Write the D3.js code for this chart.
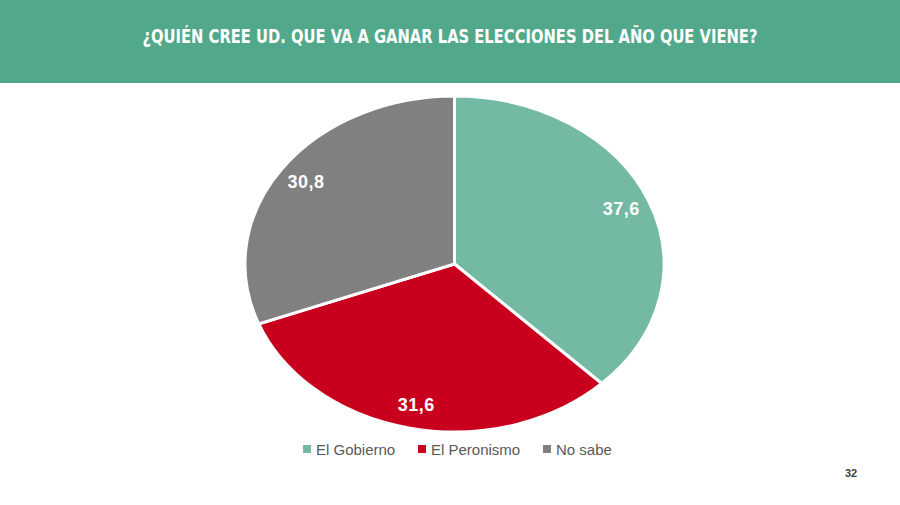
<!DOCTYPE html>
<html>
<head>
<meta charset="utf-8">
<script src="https://cdn.jsdelivr.net/npm/d3@7"></script>
<style>
  html, body { margin: 0; padding: 0; background: #ffffff; }
  svg { display: block; }
</style>
</head>
<body>
<svg id="chart" width="900" height="505"></svg>
<script>
const title = "¿QUIÉN CREE UD. QUE VA A GANAR LAS ELECCIONES DEL AÑO QUE VIENE?";
const categories = ["El Gobierno", "El Peronismo", "No sabe"];
const values = [37.6, 31.6, 30.8];
const valueLabels = ["37,6", "31,6", "30,8"];
const colors = ["#74b9a3", "#c8001e", "#808080"];
const pageNumber = "32";

const svg = d3.select("#chart");
const W = 900, H = 505;

// Header band
svg.append("rect").attr("x", 0).attr("y", 0).attr("width", W).attr("height", 83).attr("fill", "#52a88a");
const t = svg.append("text")
  .attr("x", 450).attr("y", 43)
  .attr("text-anchor", "middle")
  .attr("fill", "#ffffff")
  .attr("font-family", "'Liberation Sans Narrow', 'DejaVu Sans Condensed', 'Liberation Sans', sans-serif")
  .attr("font-weight", "bold")
  .attr("font-size", 19)
  .text(title);
const tw = t.node().getComputedTextLength();
if (tw > 0) t.attr("textLength", 615).attr("lengthAdjust", "spacingAndGlyphs");

// Pie as ellipse
const cx = 454.5, cy = 264, rx = 209.5, ry = 168;
const pie = d3.pie().sort(null).value(d => d)(values);
const arc = d3.arc().innerRadius(0).outerRadius(ry);
const g = svg.append("g").attr("transform", `translate(${cx},${cy}) scale(${rx/ry},1)`);
g.selectAll("path").data(pie).join("path")
  .attr("d", arc)
  .attr("fill", (d, i) => colors[i])
  .attr("stroke", "#ffffff")
  .attr("stroke-width", 3)
  .attr("vector-effect", "non-scaling-stroke");

const labelR = 0.86;
svg.append("g").selectAll("text").data(pie).join("text")
  .attr("x", d => { const a = (d.startAngle + d.endAngle) / 2; return cx + rx * labelR * Math.sin(a); })
  .attr("y", d => { const a = (d.startAngle + d.endAngle) / 2; return cy - ry * labelR * Math.cos(a); })
  .attr("dy", "0.35em")
  .attr("text-anchor", "middle")
  .attr("fill", "#ffffff")
  .attr("font-family", "'Liberation Sans', Arial, sans-serif")
  .attr("font-weight", "bold")
  .attr("font-size", 18)
  .attr("letter-spacing", 0.5)
  .text((d, i) => valueLabels[i]);

// Legend
const legendX = [303, 418, 543];
const lg = svg.append("g");
categories.forEach((c, i) => {
  lg.append("rect").attr("x", legendX[i]).attr("y", 445).attr("width", 8).attr("height", 8).attr("fill", colors[i]);
  lg.append("text").attr("x", legendX[i] + 13).attr("y", 455)
    .attr("fill", "#595959")
    .attr("font-family", "'Liberation Sans', Arial, sans-serif")
    .attr("font-size", 15)
    .text(c);
});

// Page number
svg.append("text").attr("x", 851).attr("y", 477).attr("text-anchor", "middle")
  .attr("fill", "#404040")
  .attr("font-family", "'Liberation Sans', Arial, sans-serif")
  .attr("font-weight", "bold")
  .attr("font-size", 11)
  .text(pageNumber);
</script>
</body>
</html>
